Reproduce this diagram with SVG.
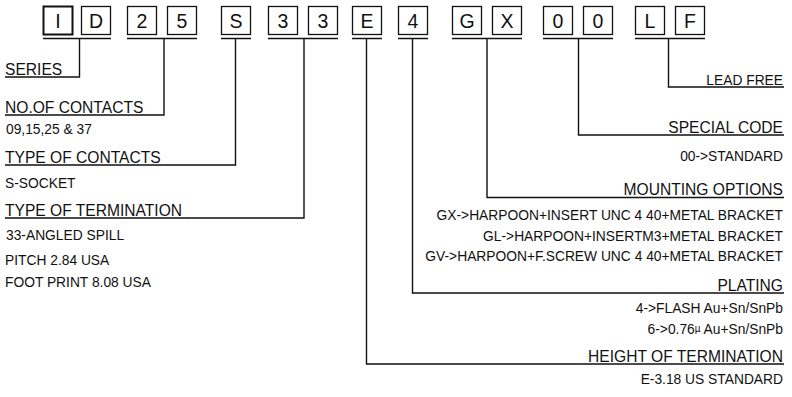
<svg xmlns="http://www.w3.org/2000/svg" width="792" height="397" viewBox="0 0 792 397">
<style>
.box{fill:#fff;stroke:#111;stroke-width:1.3}
.bt{font-family:"Liberation Sans",Arial,sans-serif;font-size:19.5px;fill:#111;text-anchor:middle}
.h{font-family:"Liberation Sans",Arial,sans-serif;font-size:15.6px;fill:#111}
.s{font-family:"Liberation Sans",Arial,sans-serif;font-size:13.8px;fill:#111}
.r{text-anchor:end}
.ln{fill:none;stroke:#111;stroke-width:1.4}
</style>
<rect width="792" height="397" fill="#fff"/>
<g id="boxes">
<g id="box-I"><rect class="box" x="43.5" y="6.5" width="29" height="28" style="stroke-width:2"/><text class="bt" x="58" y="28">I</text></g>
<g id="box-D"><rect class="box" x="81.5" y="6.5" width="29" height="28"/><text class="bt" x="96" y="28">D</text></g>
<g id="box-2"><rect class="box" x="127.5" y="6.5" width="29" height="28"/><text class="bt" x="142" y="28">2</text></g>
<g id="box-5"><rect class="box" x="167.5" y="6.5" width="29" height="28"/><text class="bt" x="182" y="28">5</text></g>
<g id="box-S"><rect class="box" x="221.5" y="6.5" width="29" height="28"/><text class="bt" x="236" y="28">S</text></g>
<g id="box-3a"><rect class="box" x="268.5" y="6.5" width="29" height="28"/><text class="bt" x="283" y="28">3</text></g>
<g id="box-3b"><rect class="box" x="308.5" y="6.5" width="29" height="28"/><text class="bt" x="323" y="28">3</text></g>
<g id="box-E"><rect class="box" x="352.5" y="6.5" width="29" height="28"/><text class="bt" x="367" y="28">E</text></g>
<g id="box-4"><rect class="box" x="398.5" y="6.5" width="29" height="28"/><text class="bt" x="413" y="28">4</text></g>
<g id="box-G"><rect class="box" x="452.5" y="6.5" width="29" height="28"/><text class="bt" x="467" y="28">G</text></g>
<g id="box-X"><rect class="box" x="492.5" y="6.5" width="29" height="28"/><text class="bt" x="507" y="28">X</text></g>
<g id="box-0a"><rect class="box" x="543.5" y="6.5" width="29" height="28"/><text class="bt" x="558" y="28">0</text></g>
<g id="box-0b"><rect class="box" x="583.5" y="6.5" width="29" height="28"/><text class="bt" x="598" y="28">0</text></g>
<g id="box-L"><rect class="box" x="635.5" y="6.5" width="29" height="28"/><text class="bt" x="650" y="28">L</text></g>
<g id="box-F"><rect class="box" x="675.5" y="6.5" width="29" height="28"/><text class="bt" x="690" y="28">F</text></g>
</g>
<g id="connectors">
<path class="ln" d="M43 38.5H111M79.5 38.5V77H5"/>
<path class="ln" d="M127 38.5H197M164 38.5V115H5"/>
<path class="ln" d="M221 38.5H251M235.5 38.5V165H5"/>
<path class="ln" d="M268 38.5H338M304 38.5V218H5"/>
<path class="ln" d="M352 38.5H382M366.5 38.5V364H784"/>
<path class="ln" d="M398 38.5H428M412.5 38.5V293H784"/>
<path class="ln" d="M452 38.5H522M487 38.5V197.5H784"/>
<path class="ln" d="M543 38.5H613M578.5 38.5V135H784"/>
<path class="ln" d="M635 38.5H705M668.5 38.5V87H784"/>
</g>
<g id="labels-left">
<text class="h" x="5" y="75">SERIES</text>
<text class="h" x="5" y="113">NO.OF CONTACTS</text>
<text class="s" x="6" y="134">09,15,25 &amp; 37</text>
<text class="h" x="5" y="163">TYPE OF CONTACTS</text>
<text class="s" x="5" y="188">S-SOCKET</text>
<text class="h" x="5" y="216">TYPE OF TERMINATION</text>
<text class="s" x="6" y="240">33-ANGLED SPILL</text>
<text class="s" x="5" y="265">PITCH 2.84 USA</text>
<text class="s" x="5" y="287">FOOT PRINT 8.08 USA</text>
</g>
<g id="labels-right">
<text class="s r" x="783" y="85">LEAD FREE</text>
<text class="h r" x="783" y="133">SPECIAL CODE</text>
<text class="s r" x="783" y="161">00-&gt;STANDARD</text>
<text class="h r" x="783" y="195">MOUNTING OPTIONS</text>
<text class="s r" x="783" y="220">GX-&gt;HARPOON+INSERT UNC 4 40+METAL BRACKET</text>
<text class="s r" x="783" y="241">GL-&gt;HARPOON+INSERTM3+METAL BRACKET</text>
<text class="s r" x="783" y="261">GV-&gt;HARPOON+F.SCREW UNC 4 40+METAL BRACKET</text>
<text class="h r" x="783" y="291">PLATING</text>
<text class="s r" x="783" y="313">4-&gt;FLASH Au+Sn/SnPb</text>
<text class="s r" x="783" y="334">6-&gt;0.76<tspan font-size="10" dy="-2">µ</tspan><tspan dy="2"> Au+Sn/SnPb</tspan></text>
<text class="h r" x="783" y="362">HEIGHT OF TERMINATION</text>
<text class="s r" x="783" y="384">E-3.18 US STANDARD</text>
</g>
</svg>
